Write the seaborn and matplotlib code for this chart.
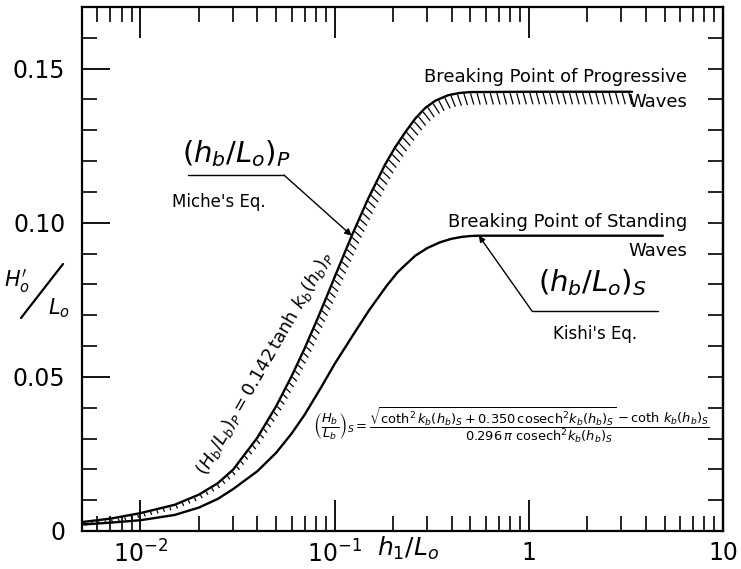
import numpy as np
import matplotlib
matplotlib.use("Agg")
import matplotlib.pyplot as plt
import seaborn as sns
from matplotlib.ticker import LogLocator, MultipleLocator, NullFormatter
from matplotlib.collections import LineCollection
from matplotlib.lines import Line2D

# ---- data ----
prog_x = [0.005, 0.007, 0.010, 0.015, 0.020, 0.025, 0.030, 0.040, 0.050, 0.060,
          0.070, 0.080, 0.090, 0.100, 0.1225, 0.148, 0.1815, 0.205, 0.230, 0.260,
          0.292, 0.330, 0.385, 0.440, 0.50, 1.0, 2.0, 3.4]
prog_y = [0.0029, 0.0040, 0.0058, 0.0085, 0.0118, 0.0155, 0.0199, 0.0303, 0.0405, 0.0502,
          0.0592, 0.0676, 0.0753, 0.0824, 0.0958, 0.1075, 0.1188, 0.1245, 0.1292, 0.1338,
          0.1372, 0.1396, 0.1414, 0.1421, 0.1424, 0.1425, 0.1425, 0.1425]

stand_x = [0.005, 0.007, 0.010, 0.015, 0.020, 0.025, 0.030, 0.040, 0.050, 0.060,
           0.070, 0.085, 0.100, 0.128, 0.150, 0.185, 0.210, 0.230, 0.260, 0.300,
           0.350, 0.400, 0.450, 0.500, 0.553, 1.0, 2.0, 4.9]
stand_y = [0.0021, 0.0027, 0.0035, 0.0052, 0.0076, 0.0104, 0.0136, 0.0194, 0.0254, 0.0316,
           0.0377, 0.0465, 0.0542, 0.0648, 0.0715, 0.0795, 0.0838, 0.0862, 0.0893, 0.0918,
           0.0937, 0.0948, 0.0954, 0.0957, 0.0958, 0.0958, 0.0958, 0.0958]

ytick_vals = [0, 0.05, 0.10, 0.15]
ytick_labels = ["0", "0.05", "0.10", "0.15"]
xtick_vals = [0.01, 0.1, 1, 10]
xtick_labels = [r"$10^{-2}$", r"$10^{-1}$", "1", "10"]

# ---- style ----
sns.set_theme(style="white")
plt.rcParams['font.family'] = ['DejaVu Sans']
plt.rcParams['mathtext.fontset'] = 'dejavusans'
plt.rcParams['text.color'] = 'black'
plt.rcParams['axes.labelcolor'] = 'black'
plt.rcParams['xtick.color'] = 'black'
plt.rcParams['ytick.color'] = 'black'

fig = plt.figure(figsize=(7.41, 5.69), dpi=100)
ax = fig.add_axes([0.1107, 0.0668, 0.865, 0.9209])

sns.lineplot(x=prog_x, y=prog_y, ax=ax, color="black", lw=1.7, sort=False)
sns.lineplot(x=stand_x, y=stand_y, ax=ax, color="black", lw=1.7, sort=False)

ax.set_xscale("log")
ax.set_xlim(0.005, 10)
ax.set_ylim(0, 0.17)

for sp in ax.spines.values():
    sp.set_linewidth(1.6)
    sp.set_color("black")

# x ticks
ax.set_xticks(xtick_vals)
ax.set_xticklabels(xtick_labels)
ax.xaxis.set_minor_locator(LogLocator(base=10, subs=np.arange(2, 10)))
ax.xaxis.set_minor_formatter(NullFormatter())
ax.tick_params(axis="x", which="major", direction="in", length=22, width=1.3,
               top=True, bottom=True, labelsize=17, pad=7, colors="black")
ax.tick_params(axis="x", which="minor", direction="in", length=11, width=1.2,
               top=True, bottom=True)

# y ticks (left)
ax.set_yticks(ytick_vals)
ax.set_yticklabels(ytick_labels)
ax.yaxis.set_minor_locator(MultipleLocator(0.01))
ax.tick_params(axis="y", which="major", direction="in", length=20, width=1.3,
               left=True, right=False, labelsize=17, pad=12, colors="black")
ax.tick_params(axis="y", which="minor", direction="in", length=11, width=1.2,
               left=True, right=False)

# right side ticks, all equal
sec = ax.secondary_yaxis("right")
sec.yaxis.set_major_locator(MultipleLocator(0.01))
sec.yaxis.set_major_formatter(NullFormatter())
sec.tick_params(direction="in", length=11, width=1.2, colors="black")
sec.spines["right"].set_linewidth(1.6)

ax.set_xlabel("")
ax.set_ylabel("")

# ---- hatching below the progressive-wave curve ----
P = ax.transData.transform(np.column_stack([prog_x, prog_y]))
seg = np.diff(P, axis=0)
s = np.concatenate([[0], np.cumsum(np.hypot(seg[:, 0], seg[:, 1]))])
s_end = s[-1] - 2
ss = np.arange(3, s_end, 6.6)
def at(sv):
    return np.column_stack([np.interp(sv, s, P[:, 0]), np.interp(sv, s, P[:, 1])])
p0 = at(ss)
d = at(ss + 4) - at(ss - 4)
tang = np.arctan2(d[:, 1], d[:, 0])
normal = tang - np.pi / 2
ang = 0.5 * normal + 0.5 * np.deg2rad(-60)
inv = ax.transData.inverted()
yd = inv.transform(p0)[:, 1]
L = 4 + 9 * np.clip(yd / 0.142, 0, 1)
dirv = np.column_stack([np.cos(ang), np.sin(ang)])
start = p0 + 1.2 * dirv
end = p0 + L[:, None] * dirv
segs = [[tuple(a), tuple(b)] for a, b in zip(inv.transform(start), inv.transform(end))]
ax.add_collection(LineCollection(segs, colors="black", linewidths=0.9))

# ---- annotations ----
ax.text(0.0311, 0.1225, r"$\left(h_b/L_o\right)_P$", fontsize=21, ha="center", va="center")
ax.plot([0.0176, 0.0548], [0.1155, 0.1155], color="black", lw=1.0)
ax.annotate("", xy=(prog_x[14], prog_y[14]), xytext=(0.0548, 0.1155),
            arrowprops=dict(arrowstyle="-|>", color="black", lw=1.0,
                            mutation_scale=10, shrinkA=0, shrinkB=0))
ax.text(0.0252, 0.1068, "Miche's Eq.", fontsize=12, ha="center", va="center")

ax.text(6.55, 0.1472, "Breaking Point of Progressive", fontsize=13, ha="right", va="center")
ax.text(6.55, 0.1391, "Waves", fontsize=13, ha="right", va="center")
ax.text(6.55, 0.1003, "Breaking Point of Standing", fontsize=13, ha="right", va="center")
ax.text(6.55, 0.0910, "Waves", fontsize=13, ha="right", va="center")

ax.text(2.12, 0.0806, r"$\left(h_b/L_o\right)_S$", fontsize=21, ha="center", va="center")
ax.plot([1.04, 4.64], [0.0713, 0.0713], color="black", lw=1.0)
ax.annotate("", xy=(stand_x[24], stand_y[24]), xytext=(1.04, 0.0713),
            arrowprops=dict(arrowstyle="-|>", color="black", lw=1.0,
                            mutation_scale=9, shrinkA=0, shrinkB=0))
ax.text(2.2, 0.0638, "Kishi's Eq.", fontsize=12, ha="center", va="center")

ax.text(0.0434, 0.0545, r"$\left(H_b/L_b\right)_P = 0.142\,\tanh\,k_b(h_b)_P$",
        fontsize=13, rotation=60, rotation_mode="anchor", ha="center", va="center")

ax.text(0.81, 0.0342,
        r"$\left(\dfrac{H_b}{L_b}\right)_S = \dfrac{\sqrt{\coth^2 k_b(h_b)_S + 0.350\,\mathrm{cosech}^2 k_b(h_b)_S} - \coth\,k_b(h_b)_S}{0.296\,\pi\ \mathrm{cosech}^2 k_b(h_b)_S}$",
        fontsize=9.4, ha="center", va="center")

# y-axis label  H'o / Lo  (hand-lettered layout)
fig.text(17 / 741, 1 - 281 / 569, r"$H_o'$", fontsize=15, ha="center", va="center")
fig.add_artist(Line2D([21 / 741, 63 / 741], [1 - 318 / 569, 1 - 264 / 569],
                      transform=fig.transFigure, color="black", lw=1.6))
fig.text(59 / 741, 1 - 308 / 569, r"$L_o$", fontsize=15, ha="center", va="center")
# x-axis label
fig.text(408 / 741, 1 - 548 / 569, r"$h_1/L_o$", fontsize=18, ha="center", va="center")

fig.savefig("out.png", dpi=100)
